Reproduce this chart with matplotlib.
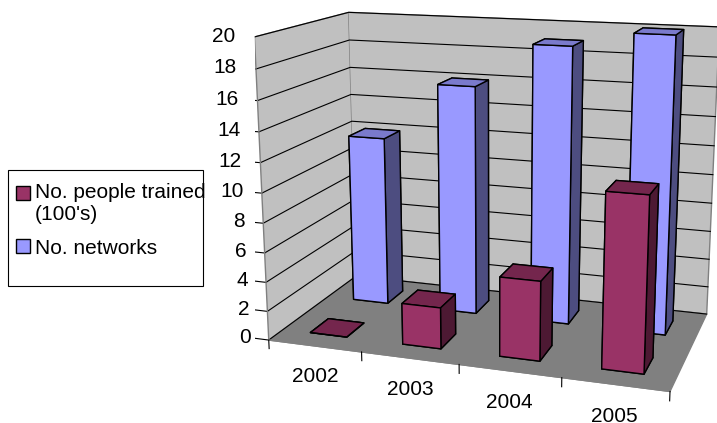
import matplotlib.pyplot as plt
from matplotlib.patches import Patch, Rectangle
from matplotlib.legend_handler import HandlerPatch

plt.rcParams['font.family'] = ['Liberation Sans', 'DejaVu Sans']
plt.rcParams['font.size'] = 15

years = ['2002', '2003', '2004', '2005']
people_trained = [0, 2.8, 5.3, 11.4]
networks = [12, 16, 19, 20]
z_ticks = list(range(0, 21, 2))
series_labels = ["No. people trained\n(100's)", "No. networks"]

# face colours: bottom, top, front(-y), back(+y), left(-x), right(+x)
people_faces = ['#993366', '#74264d', '#993366', '#993366', '#4d1933', '#4d1933']
network_faces = ['#9999ff', '#7a7acc', '#9999ff', '#9999ff', '#4d4d80', '#4d4d80']

BAR_W = 0.4
DEPTH = 2.0

fig = plt.figure(figsize=(7.17, 4.23), dpi=100)
ax = fig.add_axes([0.30, 0.001, 0.76, 1.1], projection='3d')
ax.computed_zorder = False
ax.view_init(elev=14.3, azim=-71.8)
ax.set_proj_type('persp', focal_length=0.5)
ax.set_xlim(0, len(years))
ax.set_ylim(0, DEPTH)
ax.set_zlim(0, 20)
ax.set_box_aspect((3.86, 2.02, 2.9), zoom=1.145)

ax.xaxis.set_pane_color('#c0c0c0')
ax.yaxis.set_pane_color('#c0c0c0')
ax.zaxis.set_pane_color('#808080')
for axis in (ax.xaxis, ax.yaxis, ax.zaxis):
    axis.pane.set_edgecolor('#808080')
    axis.line.set_color((0, 0, 0, 0))
ax.set_xticks([])
ax.set_yticks([])
ax.set_zticks([])
ax.grid(False)

# gridlines on the walls, axis ticks
for v in z_ticks:
    ax.plot([0, 0, len(years)], [0, DEPTH, DEPTH], [v, v, v], color='black', lw=0.8, zorder=1)
    ax.plot([0, -0.15], [0, 0], [v, v], color='black', lw=0.8, zorder=1)
    ax.text(-0.2, 0, v, str(v), ha='right', va='center', zorder=5)
ax.plot([0, 0], [0, 0], [0, 20], color='#808080', lw=1, zorder=1)
ax.plot([0, len(years)], [0, 0], [0, 0], color='#808080', lw=1, zorder=1)
for i in range(len(years) + 1):
    ax.plot([i, i], [0, 0], [0, -0.6], color='black', lw=0.8, zorder=1)
for i, yr in enumerate(years):
    ax.text(i + 0.5, 0, -1.5, yr, ha='center', va='top', zorder=5)

# bars: back row first, left to right
z = 2
for row, (vals, faces) in enumerate([(networks, network_faces), (people_trained, people_faces)]):
    yc = 1.5 if row == 0 else 0.5
    for i, v in enumerate(vals):
        ax.bar3d(i + 0.5 - BAR_W / 2, yc - BAR_W / 2, 0, BAR_W, BAR_W, v,
                 color=faces, edgecolor='black', linewidth=1, shade=False, zorder=z)
        z += 1


def top_square(legend, orig_handle, xdescent, ydescent, width, height, fontsize):
    # square next to the first line of a two-line label
    return Rectangle((-xdescent, -ydescent + 0.54 * fontsize), width, width)


handles = [Patch(facecolor='#993366', edgecolor='black'),
           Patch(facecolor='#9999ff', edgecolor='black')]
fig.legend(handles, series_labels, loc='upper left', bbox_to_anchor=(16 / 717, 1 - 183 / 423),
           borderaxespad=0, borderpad=0, frameon=False,
           handlelength=0.67, handleheight=0.67, handletextpad=0.25,
           labelspacing=0.7, fontsize=15,
           handler_map={handles[0]: HandlerPatch(patch_func=top_square)})
fig.patches.append(Rectangle((8 / 717, 1 - 286 / 423), 195 / 717, 116 / 423,
                             transform=fig.transFigure, fill=False,
                             edgecolor='black', linewidth=0.8))

fig.savefig('out.png', dpi=100)
